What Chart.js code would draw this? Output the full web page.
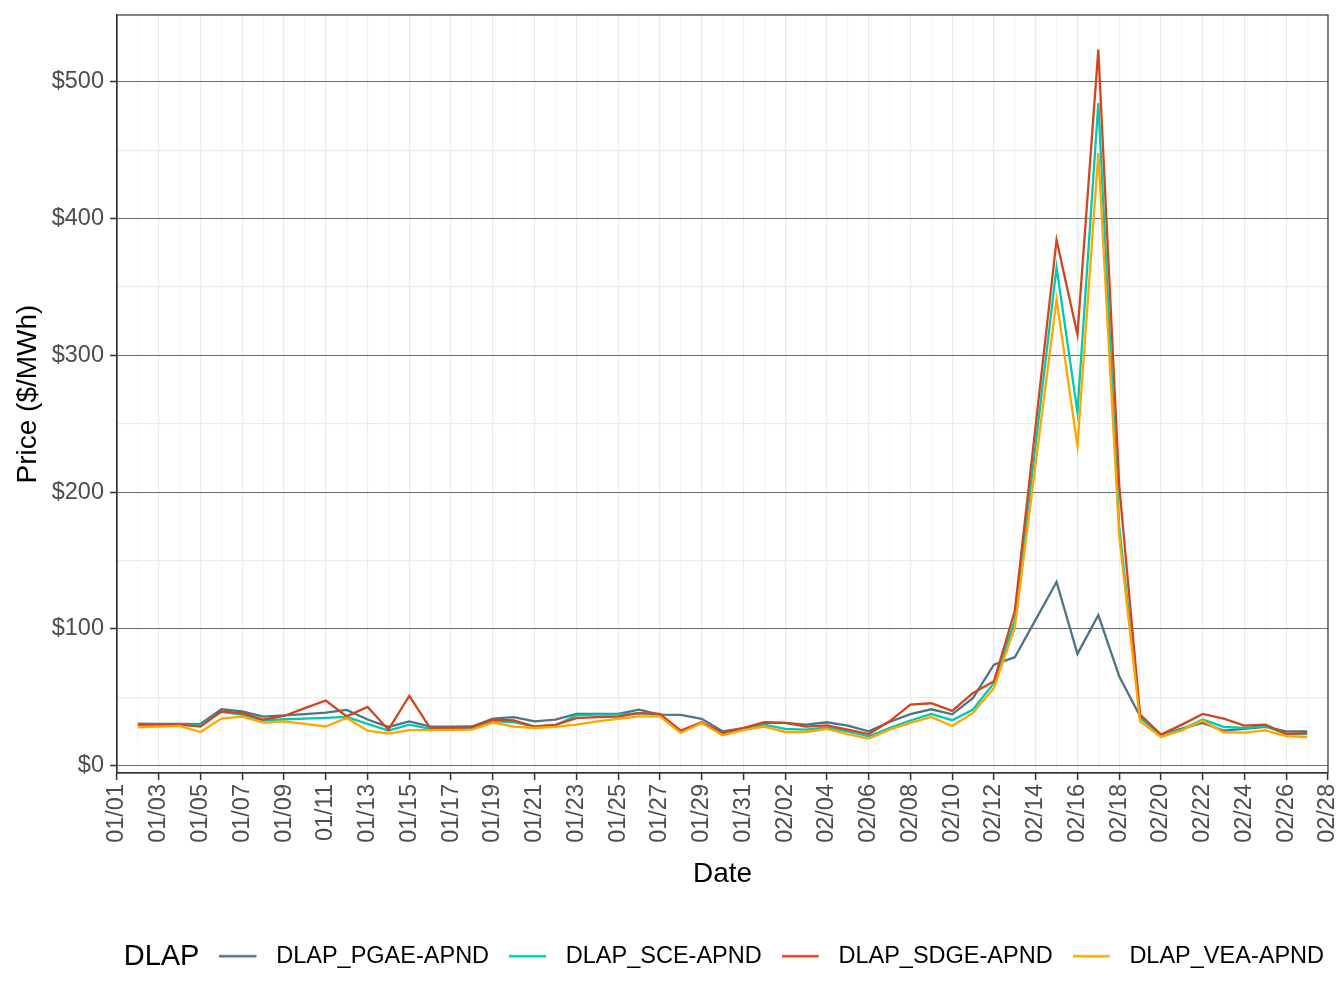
<!DOCTYPE html>
<html lang="en">
<head>
<meta charset="UTF-8">
<title>DLAP Prices</title>
<script src="https://cdn.jsdelivr.net/npm/chart.js"></script>
<style>
    html, body { margin: 0; padding: 0; background: #ffffff; }
    #wrap { width: 1344px; height: 1008px; position: relative; }
</style>
</head>
<body>
<div id="wrap"><canvas id="priceChart"></canvas></div>

<script>
// x categories: every day from 01/01 to 02/28 (data runs 01/02 - 02/27)
const dates = [
    "01/01","01/02","01/03","01/04","01/05","01/06","01/07","01/08","01/09","01/10",
    "01/11","01/12","01/13","01/14","01/15","01/16","01/17","01/18","01/19","01/20",
    "01/21","01/22","01/23","01/24","01/25","01/26","01/27","01/28","01/29","01/30",
    "01/31","02/01","02/02","02/03","02/04","02/05","02/06","02/07","02/08","02/09",
    "02/10","02/11","02/12","02/13","02/14","02/15","02/16","02/17","02/18","02/19",
    "02/20","02/21","02/22","02/23","02/24","02/25","02/26","02/27","02/28"
];

const pgae = [null,
    30.7, 30.6, 30.6, 30.4, 41.2, 39.7, 35.8, 36.8, 37.7, 38.7,
    40.8, 33.7, 28.3, 32.4, 28.5, 28.5, 28.6, 34.4, 35.4, 32.4,
    33.6, 37.8, 37.8, 37.8, 41.0, 37.3, 37.1, 34.2, 25.1, 27.5,
    31.2, 31.2, 30.0, 31.7, 29.3, 25.1, 31.9, 37.7, 41.2, 37.5,
    49.5, 73.9, 79.3, 106.8, 134.4, 81.7, 110.0, 65.4, 36.1, 22.7,
    27.1, 31.2, 25.6, 26.8, 28.3, 25.1, 25.1, null];

const sce = [null,
    30.0, 30.0, 30.0, 29.6, 39.3, 37.3, 32.9, 33.9, 34.4, 34.9,
    35.6, 30.5, 25.6, 30.0, 26.8, 26.8, 27.0, 32.4, 31.9, 28.6,
    29.5, 36.8, 37.3, 37.3, 38.4, 37.3, 24.6, 31.2, 23.1, 26.3,
    30.0, 26.8, 26.3, 28.0, 25.1, 21.4, 27.5, 33.0, 37.8, 33.2,
    41.0, 60.5, 106.0, 235.0, 364.4, 258.6, 484.6, 175.0, 34.9, 22.2,
    26.3, 33.7, 28.3, 27.5, 28.8, 23.1, 23.1, null];

const sdge = [null,
    30.0, 30.0, 30.0, 28.5, 39.7, 38.3, 33.7, 36.3, 42.0, 47.6,
    36.0, 42.9, 26.3, 51.0, 27.5, 27.5, 28.0, 33.6, 33.1, 28.6,
    29.8, 34.7, 35.4, 35.8, 38.4, 37.8, 25.6, 31.7, 23.9, 27.5,
    31.7, 31.2, 28.5, 29.5, 26.3, 23.1, 32.4, 44.6, 45.6, 40.0,
    53.2, 61.7, 113.0, 249.0, 384.5, 315.3, 523.8, 205.0, 37.3, 22.7,
    30.0, 37.8, 34.4, 29.3, 30.0, 23.3, 23.7, null];

const vea = [null,
    28.0, 28.5, 29.0, 24.6, 34.4, 35.8, 31.5, 32.4, 30.5, 28.6,
    34.9, 25.6, 23.4, 25.9, 25.9, 26.1, 26.3, 31.5, 28.5, 27.5,
    28.3, 30.0, 32.4, 34.2, 36.0, 36.0, 23.9, 31.2, 22.2, 25.9,
    28.6, 24.6, 24.6, 26.8, 23.1, 19.8, 26.3, 31.2, 35.6, 29.0,
    38.5, 56.8, 101.0, 221.0, 340.9, 233.7, 448.0, 168.0, 32.4, 21.0,
    25.8, 32.9, 24.4, 24.1, 25.8, 21.6, 20.9, null];

const seriesNames = ["DLAP_PGAE-APND", "DLAP_SCE-APND", "DLAP_SDGE-APND", "DLAP_VEA-APND"];
const seriesColors = ["#4E7489", "#00C9B1", "#D1451F", "#FFA600"];
const yTicks = [0, 50, 100, 150, 200, 250, 300, 350, 400, 450, 500];

const FONT = "'Liberation Sans', Arial, Helvetica, sans-serif";

// little line swatch for the legend keys
function keyImage(color) {
    const c = document.createElement("canvas");
    c.width = 45;
    c.height = 6;
    const g = c.getContext("2d");
    g.strokeStyle = color;
    g.lineWidth = 2.6;
    g.beginPath();
    g.moveTo(0, 3);
    g.lineTo(37, 3);
    g.stroke();
    return c;
}

// top + right panel border, ggplot style
const panelBorder = {
    id: "panelBorder",
    afterDraw(chart) {
        const a = chart.chartArea;
        const ctx = chart.ctx;
        ctx.save();
        ctx.strokeStyle = "#333333";
        ctx.lineWidth = 1.2;
        ctx.strokeRect(a.left, a.top, a.right - a.left, a.bottom - a.top);
        ctx.restore();
    }
};

// "DLAP" legend title sitting left of the keys
const legendTitle = {
    id: "legendTitle",
    afterDraw(chart) {
        const hb = chart.legend && chart.legend.legendHitBoxes[0];
        if (!hb) return;
        const ctx = chart.ctx;
        ctx.save();
        ctx.font = "29px " + FONT;
        ctx.fillStyle = "#000000";
        ctx.textAlign = "right";
        ctx.textBaseline = "middle";
        ctx.fillText("DLAP", hb.left - 20, hb.top + hb.height / 2 + 1);
        ctx.restore();
    }
};

const allSeries = [pgae, sce, sdge, vea];

document.addEventListener("DOMContentLoaded", function () {
    new Chart(document.getElementById("priceChart"), {
        type: "line",
        data: {
            labels: dates,
            datasets: allSeries.map((vals, i) => ({
                label: seriesNames[i],
                data: vals,
                borderColor: seriesColors[i],
                backgroundColor: seriesColors[i],
                borderWidth: 2.3,
                pointRadius: 0,
                pointStyle: keyImage(seriesColors[i]),
                tension: 0,
                fill: false,
                order: 4 - i
            }))
        },
        options: {
            responsive: true,
            maintainAspectRatio: false,
            animation: false,
            devicePixelRatio: 1,
            events: [],
            layout: { padding: { top: 15, left: 0, right: 0, bottom: 30 } },
            plugins: {
                tooltip: { enabled: false },
                legend: {
                    position: "bottom",
                    align: "end",
                    labels: {
                        usePointStyle: true,
                        pointStyleWidth: 45,
                        padding: 20,
                        color: "#000000",
                        font: { family: FONT, size: 23.5 },
                        sort: (a, b) => a.datasetIndex - b.datasetIndex
                    }
                }
            },
            scales: {
                x: {
                    type: "category",
                    offset: false,
                    afterFit(scale) {
                        scale.height = 151.5;
                        scale.paddingRight = 16;
                    },
                    grid: {
                        color: (ctx) => ctx.index % 2 === 0 ? "#EBEBEB" : "#F3F3F3",
                        lineWidth: 1.2,
                        tickLength: 7,
                        tickColor: (ctx) => ctx.index % 2 === 0 ? "#333333" : "rgba(0,0,0,0)",
                        tickWidth: 1.5
                    },
                    border: { display: true, color: "#333333", width: 1.2 },
                    ticks: {
                        autoSkip: false,
                        maxRotation: 90,
                        minRotation: 90,
                        padding: 4,
                        color: "#4D4D4D",
                        font: { family: FONT, size: 23.5 },
                        callback: function (value, index) {
                            return index % 2 === 0 ? this.getLabelForValue(value) : "";
                        }
                    },
                    title: {
                        display: true,
                        text: "Date",
                        color: "#000000",
                        font: { family: FONT, size: 28 },
                        padding: { top: 0, bottom: 33 }
                    }
                },
                y: {
                    min: -5.4,
                    max: 549,
                    afterBuildTicks(scale) {
                        scale.ticks = yTicks.map(v => ({ value: v }));
                    },
                    afterFit(scale) {
                        scale.width = 117;
                        scale.paddingTop = 0;
                        scale.paddingBottom = 0;
                    },
                    grid: {
                        color: (ctx) => ctx.tick && ctx.tick.value % 100 === 0 ? "#6E6E6E" : "#EBEBEB",
                        lineWidth: (ctx) => ctx.tick && ctx.tick.value % 100 === 0 ? 1 : 1.2,
                        tickLength: 7,
                        tickColor: (ctx) => ctx.tick && ctx.tick.value % 100 === 0 ? "#333333" : "rgba(0,0,0,0)",
                        tickWidth: 1.5
                    },
                    border: { display: true, color: "#333333", width: 1.2 },
                    ticks: {
                        padding: 6,
                        color: "#4D4D4D",
                        font: { family: FONT, size: 23.5 },
                        callback: (v) => v % 100 === 0 ? "$" + v : ""
                    },
                    title: {
                        display: true,
                        text: "Price ($/MWh)",
                        color: "#000000",
                        font: { family: FONT, size: 28 },
                        padding: { top: 11, bottom: 0 }
                    }
                }
            }
        },
        plugins: [panelBorder, legendTitle]
    });
});
</script>
</body>
</html>
